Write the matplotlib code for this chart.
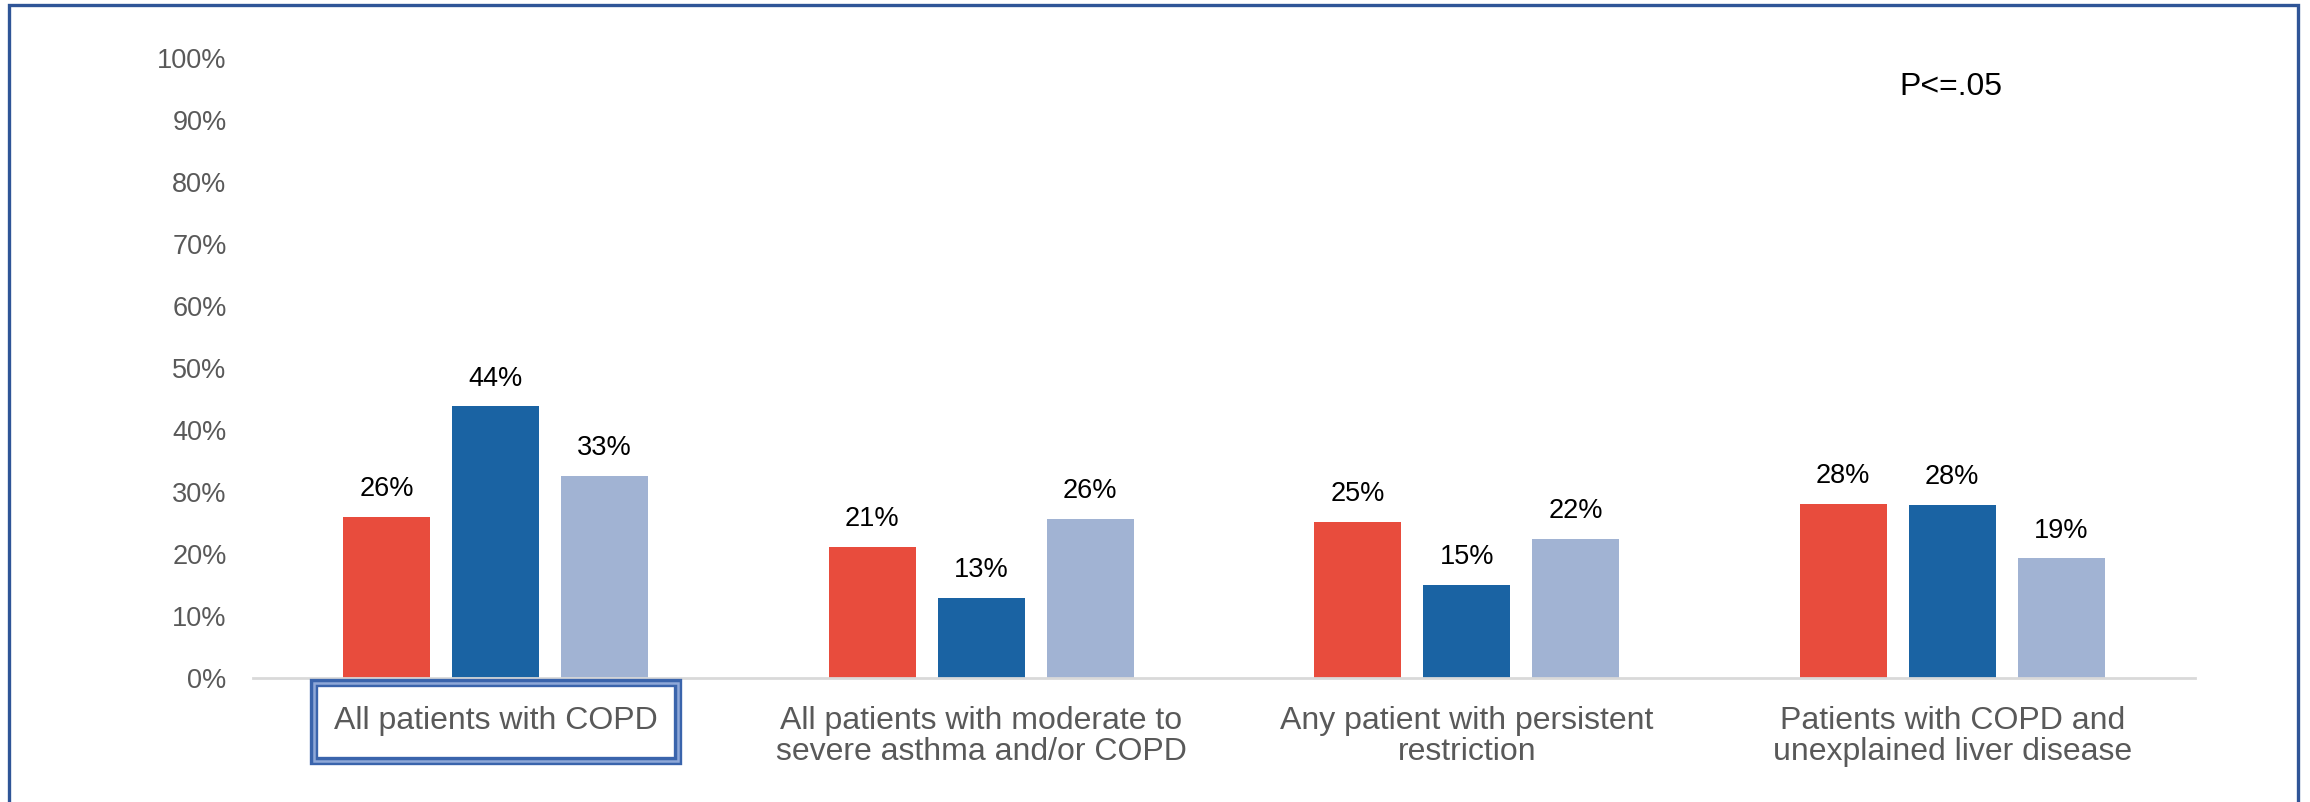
import numpy as np
import matplotlib
matplotlib.use('Agg')
import matplotlib.pyplot as plt
from matplotlib.patches import Rectangle
from matplotlib.ticker import FuncFormatter
from matplotlib.transforms import blended_transform_factory

plt.rcParams['font.family'] = ['Liberation Sans', 'DejaVu Sans']

# data (percent)
categories = ['All patients with COPD',
              'All patients with moderate to\nsevere asthma and/or COPD',
              'Any patient with persistent\nrestriction',
              'Patients with COPD and\nunexplained liver disease']
series_red = [26.0, 21.2, 25.2, 28.1]
series_blue = [43.8, 12.9, 15.0, 27.9]
series_light = [32.6, 25.7, 22.4, 19.3]
labels_red = ['26%', '21%', '25%', '28%']
labels_blue = ['44%', '13%', '15%', '28%']
labels_light = ['33%', '26%', '22%', '19%']
y_ticks = [0, 10, 20, 30, 40, 50, 60, 70, 80, 90, 100]
note = 'P<=.05'

colors = ['#E84C3D', '#1A63A3', '#A1B3D3']

fig = plt.figure(figsize=(23.1, 8.02), dpi=100)
ax = fig.add_axes([0.1095, 0.1546, 0.8407, 0.7731])

x = np.arange(len(categories))
width = 0.179
step = 0.2245
all_series = [(series_red, labels_red), (series_blue, labels_blue), (series_light, labels_light)]
for i, (vals, labs) in enumerate(all_series):
    pos = x + (i - 1) * step
    ax.bar(pos, vals, width=width, color=colors[i], zorder=2)
    for px, v, lab in zip(pos, vals, labs):
        ax.annotate(lab, (px, v), xytext=(0, 20), textcoords='offset points',
                    ha='center', va='center', fontsize=19.5, color='black')

ax.set_xlim(-0.5, len(categories) - 0.5)
ax.set_ylim(0, 100)
ax.set_yticks(y_ticks)
ax.yaxis.set_major_formatter(FuncFormatter(lambda v, p: '%d%%' % v))
ax.tick_params(axis='y', length=0, pad=19, labelsize=19.5, labelcolor='#595959')
ax.set_xticks([])
for s in ['top', 'right', 'left']:
    ax.spines[s].set_visible(False)
ax.spines['bottom'].set_color('#D9D9D9')
ax.spines['bottom'].set_linewidth(2)

# category labels
cat_texts = []
for xi, cat in zip(x, categories):
    t = ax.text(xi, -0.045, cat, transform=ax.get_xaxis_transform(),
                ha='center', va='top', fontsize=23, color='#595959',
                linespacing=1.05)
    cat_texts.append(t)

ax.text(0.848, 0.953, note, transform=ax.transAxes,
        ha='left', va='center', fontsize=23, color='black')

# double-line box around the first category label
fig.canvas.draw()
bb = cat_texts[0].get_window_extent().transformed(fig.transFigure.inverted())
W, H = fig.get_size_inches() * fig.dpi
padx, pad_top, pad_bot = 20 / W, 23 / H, 25 / H
rx, ry = bb.x0 - padx, bb.y0 - pad_bot
rw, rh = bb.width + 2 * padx, bb.height + pad_top + pad_bot
fig.patches.append(Rectangle((rx, ry), rw, rh, transform=fig.transFigure,
                             fill=False, edgecolor='#3A64AC', linewidth=6))
fig.patches.append(Rectangle((rx, ry), rw, rh, transform=fig.transFigure,
                             fill=False, edgecolor='#8FA8D8', linewidth=1.8))

# outer frame (bottom edge is cut off)
fig.patches.append(Rectangle((9 / W, -0.05), (2298 - 9) / W, 1.05 - 5 / H,
                             transform=fig.transFigure, fill=False,
                             edgecolor='#2F5597', linewidth=2.4))

fig.savefig('out.png', dpi=100)
